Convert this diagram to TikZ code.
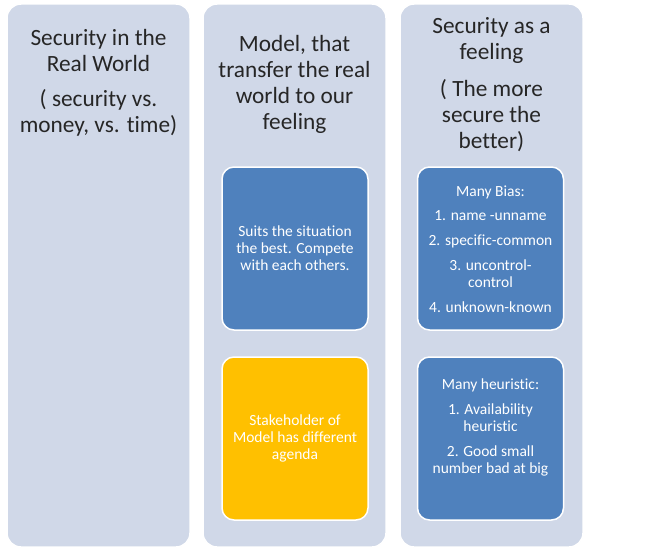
\documentclass[tikz,border=0pt]{standalone}
\usepackage{fontspec}
\setmainfont{Carlito}[Ligatures=NoCommon]
\definecolor{colbg}{HTML}{D0D8E8}
\definecolor{boxblue}{HTML}{4F81BD}
\definecolor{boxyellow}{HTML}{FFC000}
\setlength{\tabcolsep}{0pt}
\renewcommand{\arraystretch}{1}
\tikzset{
  col/.style={draw=white, line width=1.5pt, fill=colbg, rounded corners=14pt, inner sep=0pt},
  inbox/.style={draw=white, line width=1.5pt, rounded corners=12pt, inner sep=0pt,
                minimum width=146pt, minimum height=163pt},
  head/.style={anchor=base, inner sep=0pt, font=\fontsize{23.3}{26}\selectfont, text=black!85},
  small/.style={anchor=base, inner sep=0pt, font=\fontsize{15.5}{17.3}\selectfont, text=white}
}
\begin{document}
\begin{tikzpicture}[x=1pt,y=-1pt]
\useasboundingbox[fill=white] (0,0) rectangle (669,551);
% columns
\node[col, minimum width=183pt, minimum height=543pt] (c1) at (98.5,275.5) {};
\node[col, minimum width=183pt, minimum height=543pt] (c2) at (294.5,275.5) {};
\node[col, minimum width=183pt, minimum height=543pt] (c3) at (491.5,275.5) {};
% inner boxes
\node[inbox, fill=boxblue] (b21) at (295,248.5) {};
\node[inbox, fill=boxyellow] (b22) at (295,438.5) {};
\node[inbox, fill=boxblue] (b31) at (490.5,248.5) {};
\node[inbox, fill=boxblue] (b32) at (490.5,438.5) {};
% headings
\node[head] (t1) at (98.5,45.7) {\begin{tabular}[t]{c}Security in the\\ Real World\\[9pt] ( security vs.\\ money, vs. time)\end{tabular}};
\node[head] (t2) at (294.5,52) {\begin{tabular}[t]{c}Model, that\\ transfer the real\\ world to our\\ feeling\end{tabular}};
\node[head] (t3) at (491.5,33.3) {\begin{tabular}[t]{c}Security as a\\ feeling\\[11pt] ( The more\\ secure the\\ better)\end{tabular}};
% box texts
\node[small] (s21) at (295,236) {\begin{tabular}[t]{c}Suits the situation\\ the best. Compete\\ with each others.\end{tabular}};
\node[small] (s22) at (295,425.3) {\begin{tabular}[t]{c}Stakeholder of\\ Model has different\\ agenda\end{tabular}};
\node[small] (s31) at (490.5,196) {\begin{tabular}[t]{c}Many Bias:\\[7.4pt] 1. name -unname\\[7.4pt] 2. specific-common\\[7.4pt] 3. uncontrol-\\ control\\[7.4pt] 4. unknown-known\end{tabular}};
\node[small] (s32) at (490.5,389.3) {\begin{tabular}[t]{c}Many heuristic:\\[7.4pt] 1. Availability\\ heuristic\\[7.4pt] 2. Good small\\ number bad at big\end{tabular}};
\end{tikzpicture}
\end{document}
